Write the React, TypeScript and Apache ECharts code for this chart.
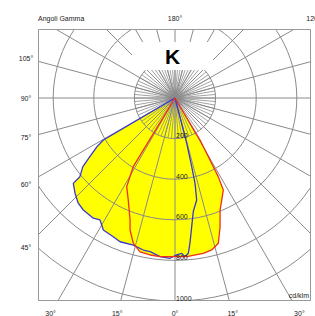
import React, { useEffect, useRef } from "react";
import * as echarts from "echarts";

// Tick labels
const radiusTicks = [200, 400, 600, 800, 1000];
const leftTicks = [105, 90, 75, 60, 45];
const bottomTicks = [-30, -15, 0, 15, 30];
const topTicks = [180, 120];

// Blue curve (signed gamma, left negative) in cd/klm
const blueAngles = [-62, -59.6, -58, -55.5, -53.3, -50.4, -50, -46.4, -42.6, -39.3, -34.2, -31.6, -28.5, -24, -20.9, -15.8, -11.8, -9.2, -5.4, -1.8, 0.6, 2.5, 3.6, 4.9, 5.9, 7.4, 9.2, 12, 13.2, 13.7, 14.5, 15.5];
const blueValues = [0, 409, 454, 509, 566, 608, 654, 680, 704, 713, 716, 705, 740, 748, 758, 753, 765, 767, 785, 790, 773, 766, 783, 768, 718, 639, 565, 514, 432, 348, 231, 0];

// Red curve
const redAngles = [-33, -31.3, -28.6, -24.6, -20.2, -18.8, -16, -12.8, -9, -5.4, -1.8, 4.2, 10.3, 13.6, 16.6, 19.3, 21.9, 24.6, 27.7, 28.8, 29.4, 30.8, 32.5];
const redValues = [0, 396, 497, 553, 641, 687, 745, 777, 783, 785, 782, 784, 778, 770, 747, 672, 595, 553, 512, 442, 351, 241, 0];

const CX = 175;
const CY = 98;
const S = 0.203; // px per cd/klm
const RMAX = 1400;
const FL = 38, FT = 29, FR = 311, FB = 301;
const GRID = "#8a8a8a";
const TXT = "#222";
const FONT = '7px "Liberation Sans", Arial, sans-serif';

const toPolar = (angles: number[], values: number[]) =>
  angles.map((a, i) => [values[i], a < 0 ? a + 360 : a]);

const rad = (d: number) => (d * Math.PI) / 180;

export default function App() {
  const ref = useRef<HTMLDivElement>(null);
  useEffect(() => {
    if (!ref.current) return;
    const chart = echarts.init(ref.current, null, { renderer: "svg" });
    const blue = toPolar(blueAngles, blueValues);
    const red = toPolar(redAngles, redValues);

    const txt = (text: string, x: number, y: number, align = "center", va = "middle", extra: any = {}) => ({
      type: "text",
      x,
      y,
      z: 101,
      silent: true,
      style: { text, fill: TXT, font: FONT, align, verticalAlign: va, ...extra },
    });

    const graphics: any[] = [
      { type: "rect", z: 100, silent: true, shape: { x: 0, y: 0, width: 315, height: FT }, style: { fill: "#fff" } },
      { type: "rect", z: 100, silent: true, shape: { x: 0, y: 0, width: FL, height: 316 }, style: { fill: "#fff" } },
      { type: "rect", z: 100, silent: true, shape: { x: FR, y: 0, width: 20, height: 316 }, style: { fill: "#fff" } },
      { type: "rect", z: 100, silent: true, shape: { x: 0, y: FB, width: 315, height: 20 }, style: { fill: "#fff" } },
      {
        type: "rect", z: 100, silent: true,
        shape: { x: FL + 0.5, y: FT + 0.5, width: FR - FL - 1, height: FB - FT - 1 },
        style: { fill: "none", stroke: "#999", lineWidth: 1 },
      },
      { type: "rect", z: 100, silent: true, shape: { x: 132, y: 42, width: 81, height: 28 }, style: { fill: "#fff" } },
      {
        type: "text", x: 172.5, y: 56, z: 101, silent: true,
        style: { text: "K", fill: "#000", font: 'bold 21px "Liberation Sans", Arial, sans-serif', align: "center", verticalAlign: "middle" },
      },
      txt("Angoli Gamma", FL, 18, "left"),
      txt("cd/klm", 309, 295.5, "right"),
    ];
    topTicks.forEach((g) => {
      const x = CX + (CY - 18) * Math.tan(rad(180 - g));
      graphics.push(txt(g + "°", x, 18));
    });
    leftTicks.forEach((g) => {
      const y = CY + (CX - 26) / Math.tan(rad(g));
      graphics.push(txt(g + "°", 26, y));
    });
    bottomTicks.forEach((g) => {
      const x = CX + (313.5 - CY) * Math.tan(rad(g));
      graphics.push(txt(Math.abs(g) + "°", x, 313.5));
    });
    radiusTicks.forEach((v) => {
      graphics.push(txt(String(v), CX + 1, CY + v * S + 0.5, "left", "bottom"));
    });

    const fill = (data: number[][]) => ({
      type: "line", coordinateSystem: "polar", polarIndex: 0, data, symbol: "none", showSymbol: false,
      lineStyle: { width: 0, opacity: 0 }, areaStyle: { color: "#ffff00", opacity: 1 }, z: 1, silent: true,
    });
    const outline = (data: number[][], color: string) => ({
      type: "line", coordinateSystem: "polar", polarIndex: 0, data, symbol: "none", showSymbol: false,
      lineStyle: { width: 1.3, color }, z: 4, silent: true,
    });

    chart.setOption({
      animation: false,
      backgroundColor: "#fff",
      polar: [
        { center: [CX, CY], radius: RMAX * S },
        { center: [CX, CY], radius: 200 * S },
      ],
      angleAxis: [
        {
          polarIndex: 0, type: "value", min: 0, max: 360, interval: 15, startAngle: 270, clockwise: false, z: 3,
          axisLine: { show: false }, axisTick: { show: false }, axisLabel: { show: false },
          splitLine: { show: true, lineStyle: { color: GRID, width: 1 } },
        },
        {
          polarIndex: 1, type: "value", min: 0, max: 360, interval: 5, startAngle: 270, clockwise: false, z: 3,
          axisLine: { show: false }, axisTick: { show: false }, axisLabel: { show: false },
          splitLine: { show: true, lineStyle: { color: GRID, width: 0.8 } },
        },
      ],
      radiusAxis: [
        {
          polarIndex: 0, type: "value", min: 0, max: RMAX, interval: 200, z: 3,
          axisLine: { show: false }, axisTick: { show: false }, axisLabel: { show: false },
          splitLine: { show: true, lineStyle: { color: GRID, width: 1 } },
        },
        {
          polarIndex: 1, type: "value", min: 0, max: 200, interval: 200, z: 3,
          axisLine: { show: false }, axisTick: { show: false }, axisLabel: { show: false },
          splitLine: { show: false },
        },
      ],
      series: [fill(blue), fill(red), outline(blue, "#3838d0"), outline(red, "#f03018")],
      graphic: graphics,
    });
    return () => chart.dispose();
  }, []);
  return <div ref={ref} style={{ position: "absolute", left: 0, top: 0, width: 315, height: 316 }} />;
}
